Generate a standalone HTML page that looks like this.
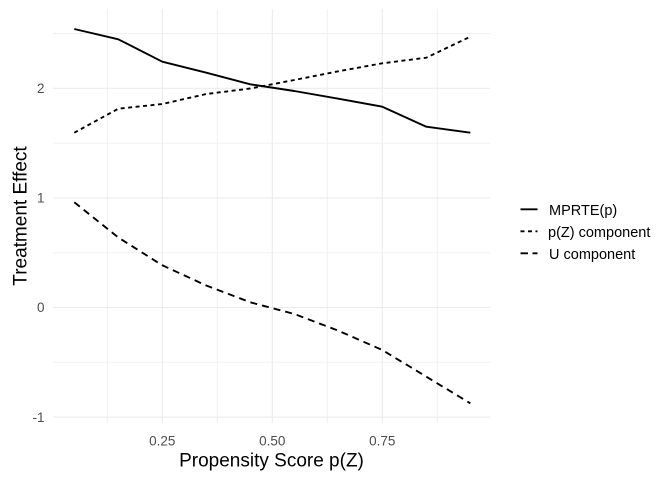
<!DOCTYPE html>
<html>
<head>
<meta charset="utf-8">
<style>
html,body{margin:0;padding:0;background:#fff;}
svg{display:block;}
text{font-family:"Liberation Sans",Arial,sans-serif;}
</style>
</head>
<body>
<svg width="672" height="480" viewBox="0 0 672 480" xmlns="http://www.w3.org/2000/svg">
<rect width="672" height="480" fill="#fff"/>
<!-- minor grid -->
<g stroke="#F0F0F0" stroke-width="1" fill="none">
<line x1="53" y1="33.5" x2="490" y2="33.5"/>
<line x1="53" y1="143.2" x2="490" y2="143.2"/>
<line x1="53" y1="252.7" x2="490" y2="252.7"/>
<line x1="53" y1="362.3" x2="490" y2="362.3"/>
<line x1="107.3" y1="9" x2="107.3" y2="423"/>
<line x1="217.3" y1="9" x2="217.3" y2="423"/>
<line x1="327.3" y1="9" x2="327.3" y2="423"/>
<line x1="437.3" y1="9" x2="437.3" y2="423"/>
</g>
<!-- major grid -->
<g stroke="#EBEBEB" stroke-width="1.1" fill="none">
<line x1="53" y1="88.3" x2="490" y2="88.3"/>
<line x1="53" y1="197.9" x2="490" y2="197.9"/>
<line x1="53" y1="307.5" x2="490" y2="307.5"/>
<line x1="53" y1="417.1" x2="490" y2="417.1"/>
<line x1="162.3" y1="9" x2="162.3" y2="423"/>
<line x1="272.3" y1="9" x2="272.3" y2="423"/>
<line x1="382.3" y1="9" x2="382.3" y2="423"/>
</g>
<!-- series -->
<g fill="none" stroke="#000" stroke-width="1.9" stroke-linejoin="round">
<polyline points="74.3,29 118.3,39.3 162.3,61.7 206.3,72.7 250.3,84.3 294.3,91 338.3,98.7 382.3,106.7 426.3,126.7 470.3,132.7"/>
<polyline stroke-dasharray="4 3.5" points="74.3,132.7 118.3,108.7 162.3,104 206.3,94 250.3,88.5 294.3,80 338.3,71.3 382.3,63.3 426.3,57.7 470.3,36.7"/>
<polyline stroke-dasharray="7 5" points="74.3,202.3 118.3,237.5 162.3,265.3 206.3,285.5 250.3,302.3 294.3,314 338.3,330.7 382.3,350 426.3,376.7 470.3,403.3"/>
</g>
<!-- y tick labels -->
<g font-size="13.5" fill="#4D4D4D" text-anchor="end">
<text x="44.5" y="93">2</text>
<text x="44.5" y="202.6">1</text>
<text x="44.5" y="312.2">0</text>
<text x="44.5" y="421.8">-1</text>
</g>
<!-- x tick labels -->
<g font-size="13.5" fill="#4D4D4D" text-anchor="middle">
<text x="162.3" y="445.3">0.25</text>
<text x="272.3" y="445.3">0.50</text>
<text x="382.3" y="445.3">0.75</text>
</g>
<!-- axis titles -->
<text x="271.5" y="466.5" font-size="19" text-anchor="middle" fill="#000">Propensity Score p(Z)</text>
<text transform="translate(26.5,216) rotate(-90)" font-size="19" text-anchor="middle" fill="#000">Treatment Effect</text>
<!-- legend -->
<g fill="none" stroke="#000" stroke-width="1.9">
<line x1="520.5" y1="209.3" x2="537.5" y2="209.3"/>
<line x1="520.5" y1="231.3" x2="537.5" y2="231.3" stroke-dasharray="4 3.5"/>
<line x1="520.5" y1="253.3" x2="537.5" y2="253.3" stroke-dasharray="7.5 4.5"/>
</g>
<g font-size="14.5" fill="#000">
<text x="549" y="214.8">MPRTE(p)</text>
<text x="548" y="236.8">p(Z) component</text>
<text x="549" y="258.8">U component</text>
</g>
</svg>
</body>
</html>
